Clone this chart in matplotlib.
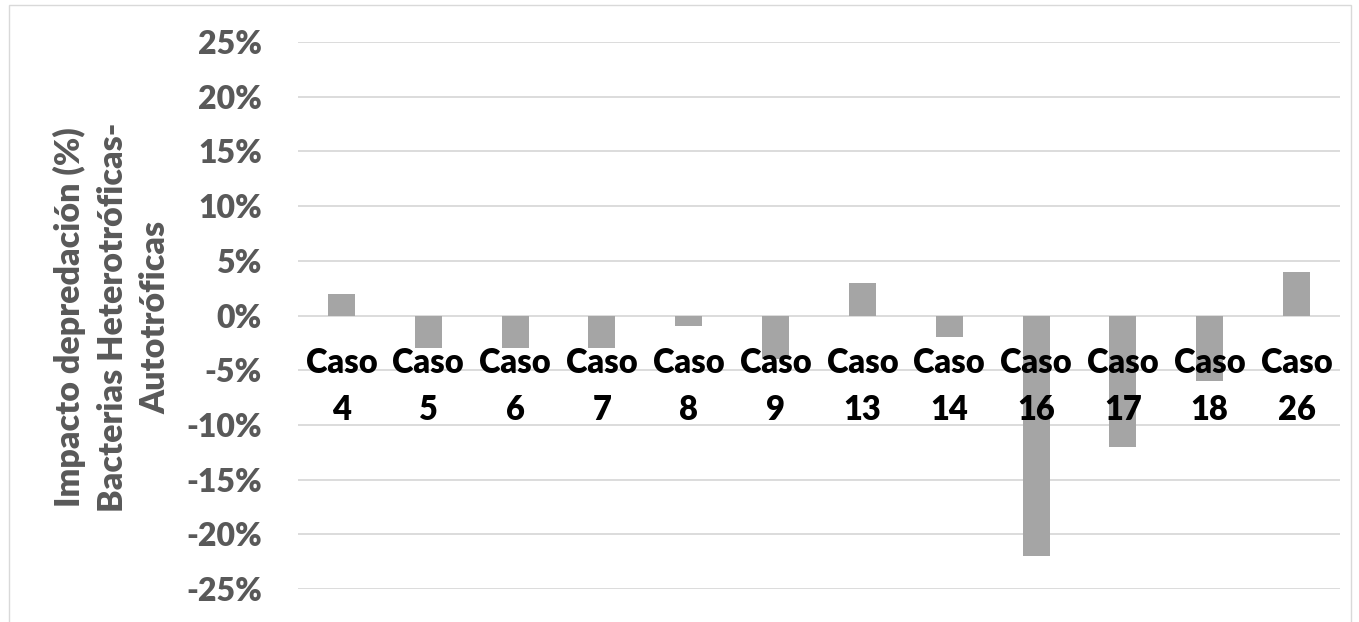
import matplotlib.pyplot as plt
from matplotlib.patches import Rectangle
from matplotlib.ticker import FuncFormatter

# impacto de la depredación por caso
casos = ["4", "5", "6", "7", "8", "9", "13", "14", "16", "17", "18", "26"]
impacto = [2, -3, -3, -3, -1, -4, 3, -2, -22, -12, -6, 4]
yticks = [-25, -20, -15, -10, -5, 0, 5, 10, 15, 20, 25]

plt.rcParams["font.family"] = ["Lato", "DejaVu Sans"]

fig = plt.figure(figsize=(13.59, 6.22), dpi=100)
ax = fig.add_axes([298 / 1359, 1 - 589 / 622, 1042 / 1359, 547 / 622])

x = list(range(len(casos)))
ax.bar(x, [v / 100 for v in impacto], width=0.31, color="#A5A5A5", zorder=2)

ax.set_xlim(-0.5, len(casos) - 0.5)
ax.set_ylim(-0.25, 0.25)
ax.set_yticks([t / 100 for t in yticks])
ax.yaxis.set_major_formatter(FuncFormatter(lambda v, p: f"{v * 100:.0f}%"))
ax.tick_params(axis="y", length=0, pad=26, labelsize=23, labelcolor="#595959")
for lbl in ax.get_yticklabels():
    lbl.set_fontweight("heavy")
ax.set_xticks([])
ax.grid(axis="y", color="#D9D9D9", linewidth=1.3, zorder=0)
for s in ax.spines.values():
    s.set_visible(False)

# etiquetas de categoría junto al eje (cruzan las barras)
for xi, c in zip(x, casos):
    ax.text(xi, -0.0526, "Caso", ha="center", va="baseline", fontsize=23.5,
            fontweight="heavy", color="black", zorder=3)
    ax.text(xi, -0.0955, c, ha="center", va="baseline", fontsize=23.5,
            fontweight="heavy", color="black", zorder=3)

fig.text(112 / 1359, 1 - 317 / 622,
         "Impacto depredación (%)\nBacterias Heterotróficas-\nAutotróficas",
         rotation=90, ha="center", va="center", multialignment="center",
         fontsize=24.5, fontweight="heavy", color="#595959", linespacing=1.42)

# marco exterior del gráfico
fig.patches.append(Rectangle((9 / 1359, -0.01), 1342 / 1359, 1 - 5 / 622 + 0.01,
                             transform=fig.transFigure, fill=False,
                             edgecolor="#D9D9D9", linewidth=1.0))

fig.savefig("out.png", dpi=100)
